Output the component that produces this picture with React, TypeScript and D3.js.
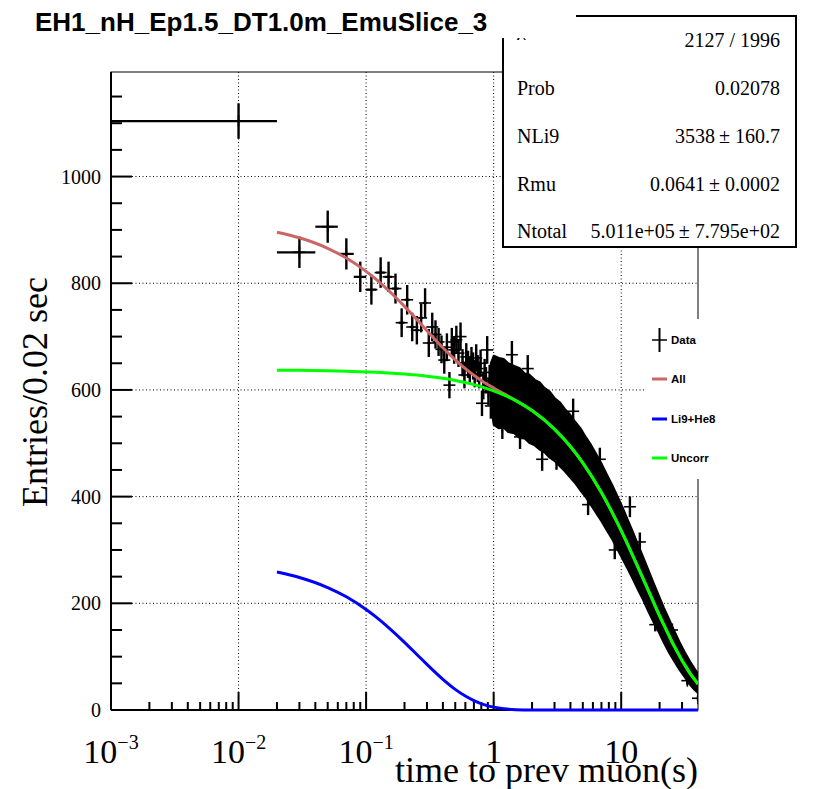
import React from "react";
import * as d3 from "d3";

// ---------------- data ----------------
const binCenters = [
  0.01, 0.03, 0.05, 0.07, 0.09, 0.11, 0.13, 0.15, 0.17, 0.19,
  0.21, 0.23, 0.25, 0.27, 0.29, 0.31, 0.33, 0.35, 0.37, 0.39,
  0.41, 0.43, 0.45, 0.47, 0.49, 0.51, 0.53, 0.55, 0.57, 0.59,
  0.61, 0.63, 0.65, 0.67, 0.69, 0.71, 0.73, 0.75, 0.77, 0.79,
  0.81, 0.83, 0.85, 0.87, 0.89, 0.91, 0.93, 0.95, 0.97, 0.99,
];
const binCounts = [
  1104, 858, 906, 855, 812, 788, 820, 812, 790, 726,
  769, 718, 712, 735, 763, 688, 718, 704, 690, 676,
  656, 680, 609, 690, 675, 694, 669, 700, 651, 628,
  662, 648, 636, 655, 645, 630, 660, 640, 628, 650,
  575, 607, 633, 618, 675, 596, 622, 570, 610, 604,
];

// dense region (t ~ 1 s and above): envelope of the black band of points
const bandT = [
  0.95, 1.0, 1.1, 1.2, 1.3, 1.45, 1.6, 1.75, 1.9, 2.1, 2.3, 2.5, 2.75, 3.0, 3.3,
  3.6, 4.0, 4.4, 4.8, 5.3, 5.8, 6.4, 7.0, 7.7, 8.5, 9.3, 10.2, 11.2, 12.3, 13.5,
  14.8, 16.3, 17.9, 19.7, 21.6, 23.8, 26.1, 28.7, 31.6, 34.7, 37.5, 39.99,
];
const bandHi = [
  650, 664, 660, 658, 650, 645, 641, 631, 629, 619, 614, 604, 597, 585, 577,
  565, 553, 539, 528, 511, 497, 479, 462, 442, 422, 402, 381, 358, 335, 311,
  288, 263, 239, 215, 192, 170, 148, 127, 108, 91, 78, 68,
];
const bandLo = [
  572, 535, 528, 529, 521, 519, 510, 509, 501, 496, 488, 483, 473, 467, 457,
  448, 435, 424, 411, 398, 384, 368, 354, 337, 320, 302, 284, 265, 246, 226,
  207, 185, 165, 146, 126, 107, 91, 75, 61, 47, 38, 32,
];
// isolated points sticking out of the band
const outT = [1.17, 1.39, 1.61, 1.85, 2.4, 3.11, 4.2, 5.5, 6.8, 8.9, 11.7, 14.0, 18.5, 25.0, 33.0, 39.99];
const outV = [531, 666, 512, 640, 470, 472, 560, 385, 470, 300, 381, 315, 160, 150, 55, 22];

// fitted curves
const curveT = [
  0.02, 0.03, 0.05, 0.07, 0.1, 0.12, 0.15, 0.2, 0.25, 0.3, 0.4, 0.5, 0.6, 0.7,
  0.85, 1, 1.2, 1.5, 2, 3, 4, 5, 7, 10, 12.5, 15, 17.5, 20, 22.5, 25, 27.5, 30,
  32.5, 35, 37.5, 40,
];
const curveAll = [
  895.7, 885.2, 865.5, 847.2, 822.2, 807.1, 786.4, 756.6, 731.9, 711.1, 679.2,
  656.5, 639.9, 627.5, 613.6, 603.7, 593.1, 580.2, 561.4, 526.5, 493.9, 463.3,
  407.6, 336.4, 286.3, 243.8, 207.8, 176.6, 150.8, 128.0, 109.5, 92.8, 79.4,
  67.2, 57.7, 48.7,
];
const curveLi9 = [
  258.6, 248.5, 229.6, 212.2, 188.4, 174.1, 154.6, 126.9, 104.1, 85.4, 57.5,
  38.7, 26.1, 17.6, 9.7, 5.4, 2.4, 0.7, 0.1, 0, 0, 0, 0, 0, 0, 0, 0, 0, 0, 0,
  0, 0, 0, 0, 0, 0,
];
const curveUncorr = [
  637.1, 636.7, 635.9, 635.0, 633.8, 633.0, 631.8, 629.7, 627.8, 625.7, 621.7,
  617.8, 613.8, 609.9, 603.9, 598.3, 590.7, 579.5, 561.3, 526.5, 493.9, 463.3,
  407.6, 336.4, 286.3, 243.8, 207.8, 176.6, 150.8, 128.0, 109.5, 92.8, 79.4,
  67.2, 57.7, 48.7,
];

const xMajor = [0.001, 0.01, 0.1, 1, 10];
const xMajorExp = ["\u22123", "\u22122", "\u22121", "", ""];
const xMajorBase = ["10", "10", "10", "1", "10"];
const yMajor = [0, 200, 400, 600, 800, 1000];

const statsLabels = ["\u03c7\u00b2 / ndf", "Prob", "NLi9", "Rmu", "Ntotal"];
const statsValues = [
  "2127 / 1996",
  "0.02078",
  "3538\u2009\u00b1 160.7",
  "0.0641\u2009\u00b1 0.0002",
  "5.011e+05\u2009\u00b1 7.795e+02",
];
const legendLabels = ["Data", "All", "Li9+He8", "Uncorr"];
const legendColors = ["#000000", "#cc6666", "#0000ff", "#00ff00"];

const titleText = "EH1_nH_Ep1.5_DT1.0m_EmuSlice_3";

export default function App() {
  const W = 816, H = 789;
  const X0 = 111, X1 = 698, Y0 = 72, Y1 = 710;
  const x = d3.scaleLog().domain([0.001, 40]).range([X0, X1]);
  const y = d3.scaleLinear().domain([0, 1196]).range([Y1, Y0]);
  const halfBin = 0.01;
  const serif = "'Liberation Serif', 'Times New Roman', serif";
  const sans = "'Liberation Sans', Arial, Helvetica, sans-serif";

  const xMinor: number[] = [];
  for (const d of [0.001, 0.01, 0.1, 1, 10]) {
    for (let k = 2; k <= 9; k++) {
      const v = k * d;
      if (v < 40) xMinor.push(v);
    }
  }
  const yMinor = d3.range(50, 1196, 50).filter((v) => v % 200 !== 0);

  const line = d3
    .line<[number, number]>()
    .x((d) => x(d[0]))
    .y((d) => y(d[1]))
    .curve(d3.curveMonotoneX);
  const pts = (vals: number[]) => curveT.map((t, i) => [t, vals[i]] as [number, number]);

  const bandPath = d3
    .area<number>()
    .x((t) => x(t))
    .y0((_, i) => y(bandLo[i]))
    .y1((_, i) => y(bandHi[i]))(bandT);

  const cross = (t: number, v: number, key: string) => {
    const lo = t - halfBin > 0.001 ? t - halfBin : 0.001;
    const hi = t + halfBin;
    const e = Math.sqrt(v);
    const cx = x(t), cy = y(v);
    return (
      <g key={key}>
        <line x1={x(lo)} x2={x(hi)} y1={cy} y2={cy} stroke="#000" strokeWidth={2.2} />
        <line x1={cx} x2={cx} y1={y(v + e)} y2={y(v - e)} stroke="#000" strokeWidth={2.4} />
        <line x1={cx - 6} x2={cx + 6} y1={cy} y2={cy} stroke="#000" strokeWidth={1.6} />
        <line x1={cx} x2={cx} y1={cy - 6} y2={cy + 6} stroke="#000" strokeWidth={1.6} />
      </g>
    );
  };

  const statsRowY = [35, 95, 143, 191, 238];

  return (
    <svg
      width={W}
      height={H}
      style={{ position: "absolute", left: 0, top: 0, display: "block", background: "#fff" }}
    >
      <defs>
        <clipPath id="frameClip">
          <rect x={X0} y={Y0} width={X1 - X0} height={Y1 - Y0 + 2} />
        </clipPath>
      </defs>
      <rect x={0} y={0} width={W} height={H} fill="#fff" />

      {/* grid */}
      <g stroke="#000" strokeWidth={1} strokeDasharray="1,2.5">
        {xMajor.slice(1).map((t) => (
          <line key={"gx" + t} x1={x(t)} x2={x(t)} y1={Y0} y2={Y1} />
        ))}
        {yMajor.slice(1).map((v) => (
          <line key={"gy" + v} x1={X0} x2={X1} y1={y(v)} y2={y(v)} />
        ))}
      </g>

      {/* frame */}
      <rect x={X0} y={Y0} width={X1 - X0} height={Y1 - Y0} fill="none" stroke="#000" strokeWidth={1} />

      {/* axes */}
      <g stroke="#000" strokeWidth={2}>
        <line x1={X0} x2={X1} y1={Y1} y2={Y1} />
        <line x1={X0} x2={X0} y1={Y0} y2={Y1} />
        {xMajor.map((t) => (
          <line key={"xt" + t} x1={x(t)} x2={x(t)} y1={Y1} y2={Y1 - 18} />
        ))}
        {xMinor.map((t) => (
          <line key={"xm" + t} x1={x(t)} x2={x(t)} y1={Y1} y2={Y1 - 8} />
        ))}
        {yMajor.map((v) => (
          <line key={"yt" + v} x1={X0} x2={X0 + 21} y1={y(v)} y2={y(v)} />
        ))}
        {yMinor.map((v) => (
          <line key={"ym" + v} x1={X0} x2={X0 + 11} y1={y(v)} y2={y(v)} />
        ))}
      </g>

      {/* data */}
      <g clipPath="url(#frameClip)">
        <path d={bandPath || ""} fill="#000" stroke="#000" strokeWidth={2} strokeLinejoin="round" />
        {binCenters.map((t, i) => cross(t, binCounts[i], "b" + i))}
        {outT.map((t, i) => cross(t, outV[i], "o" + i))}
        <path d={line(pts(curveAll)) || ""} fill="none" stroke={legendColors[1]} strokeWidth={3} />
        <path d={line(pts(curveLi9)) || ""} fill="none" stroke={legendColors[2]} strokeWidth={3} />
        <path d={line(pts(curveUncorr)) || ""} fill="none" stroke={legendColors[3]} strokeWidth={3} />
      </g>

      {/* tick labels */}
      <g fontFamily={serif} fill="#000">
        {yMajor.map((v) => (
          <text key={"yl" + v} x={101} y={y(v) + 7} fontSize={20} textAnchor="end">
            {v}
          </text>
        ))}
        {xMajor.map((t, i) => (
          <text key={"xl" + t} x={x(t)} y={763} fontSize={34} textAnchor="middle">
            <tspan>{xMajorBase[i]}</tspan>
            {xMajorExp[i] ? (
              <tspan dy={-14} fontSize={20}>
                {xMajorExp[i]}
              </tspan>
            ) : null}
          </text>
        ))}
        <text x={X1} y={782} fontSize={36} textAnchor="end">
          time to prev muon(s)
        </text>
        <text transform={`translate(47,392) rotate(-90)`} fontSize={36} textAnchor="middle">
          Entries/0.02 sec
        </text>
      </g>

      {/* legend */}
      <g>
        <rect x={645} y={319} width={112} height={160} fill="#fff" />
        {legendLabels.map((lab, i) => {
          const cy = [340, 379, 419, 458][i];
          return (
            <g key={"lg" + i}>
              {i === 0 ? (
                <g stroke="#000">
                  <line x1={652} x2={667} y1={cy} y2={cy} strokeWidth={1.5} />
                  <line x1={659.5} x2={659.5} y1={cy - 12} y2={cy + 12} strokeWidth={2} />
                </g>
              ) : (
                <line x1={652} x2={667} y1={cy} y2={cy} stroke={legendColors[i]} strokeWidth={3} />
              )}
              <text x={671} y={cy + 3.5} fontFamily={sans} fontWeight="bold" fontSize={11.5} fill="#000">
                {lab}
              </text>
            </g>
          );
        })}
      </g>

      {/* stats box */}
      <g fontFamily={serif} fontSize={20} fill="#000">
        <rect x={503} y={16} width={293} height={231} fill="#fff" stroke="#000" strokeWidth={2} />
        {statsLabels.map((lab, i) => (
          <text key={"sl" + i} x={517} y={statsRowY[i]}>
            {lab}
          </text>
        ))}
        {statsValues.map((val, i) => (
          <text key={"sv" + i} x={780} y={i === 0 ? 47 : statsRowY[i]} textAnchor="end">
            {val}
          </text>
        ))}
      </g>

      {/* title */}
      <rect x={0} y={0} width={576} height={38} fill="#fff" />
      <text x={35} y={31} fontFamily={sans} fontWeight="bold" fontSize={26} fill="#000">
        {titleText}
      </text>
    </svg>
  );
}
